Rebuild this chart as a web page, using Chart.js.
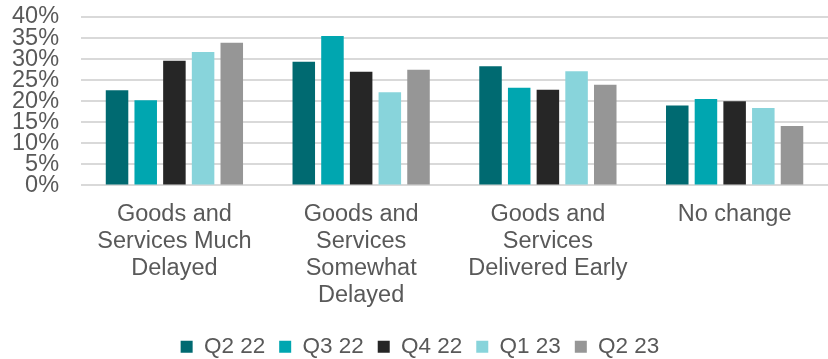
<!DOCTYPE html>
<html>
<head>
<meta charset="utf-8">
<script src="https://cdn.jsdelivr.net/npm/chart.js@4"></script>
<style>
  html, body { margin: 0; padding: 0; background: #ffffff; }
  #wrap { width: 828px; height: 359px; position: relative; }
</style>
</head>
<body>
<div id="wrap"><canvas id="chart"></canvas></div>
<script>
// Delivery timing categories (multi-line axis labels)
const categories = [
  ["Goods and", "Services Much", "Delayed"],
  ["Goods and", "Services", "Somewhat", "Delayed"],
  ["Goods and", "Services", "Delivered Early"],
  ["No change"]
];

// Share of respondents per quarter, in percent
const q2_22 = [22.6, 29.4, 28.3, 19.0];
const q3_22 = [20.2, 35.5, 23.2, 20.5];
const q4_22 = [29.6, 27.0, 22.7, 20.0];
const q1_23 = [31.7, 22.1, 27.1, 18.4];
const q2_23 = [33.9, 27.5, 23.9, 14.1];

const seriesLabels = ["Q2 22", "Q3 22", "Q4 22", "Q1 23", "Q2 23"];
const seriesValues = [q2_22, q3_22, q4_22, q1_23, q2_23];
const seriesColors = ["#006a71", "#00a6b0", "#262626", "#88d4db", "#969696"];

// Y axis tick values
const yTicks = [0, 5, 10, 15, 20, 25, 30, 35, 40];

const textColor = "#595959";
const fontFamily = "'Liberation Sans', Arial, sans-serif";

new Chart(document.getElementById("chart"), {
  type: "bar",
  data: {
    labels: categories,
    datasets: seriesLabels.map((label, i) => ({
      label: label,
      data: seriesValues[i],
      backgroundColor: seriesColors[i],
      borderWidth: 0,
      categoryPercentage: 0.768,
      barPercentage: 0.785
    }))
  },
  options: {
    responsive: true,
    maintainAspectRatio: false,
    animation: false,
    layout: { padding: { top: 17, left: 12, right: 0, bottom: -9 } },
    plugins: {
      tooltip: { enabled: false },
      legend: {
        position: "bottom",
        labels: {
          color: textColor,
          font: { family: fontFamily, size: 22.5 },
          boxWidth: 12,
          boxHeight: 12,
          padding: 14
        }
      }
    },
    scales: {
      x: {
        grid: { display: false, drawTicks: false },
        border: { display: false },
        afterFit: (axis) => { axis.height -= 4; },
        ticks: {
          color: textColor,
          font: { family: fontFamily, size: 23.5, lineHeight: 1.15 },
          padding: 16,
          maxRotation: 0,
          autoSkip: false
        }
      },
      y: {
        min: 0,
        max: 40,
        afterBuildTicks: (axis) => { axis.ticks = yTicks.map(v => ({ value: v })); },
        grid: {
          color: "#d9d9d9",
          lineWidth: 2,
          drawTicks: true,
          tickLength: 22,
          tickColor: "rgba(0,0,0,0)"
        },
        border: { display: false },
        ticks: {
          color: textColor,
          font: { family: fontFamily, size: 23.5 },
          padding: 0,
          autoSkip: false,
          callback: (v) => v + "%"
        }
      }
    }
  }
});
</script>
</body>
</html>
